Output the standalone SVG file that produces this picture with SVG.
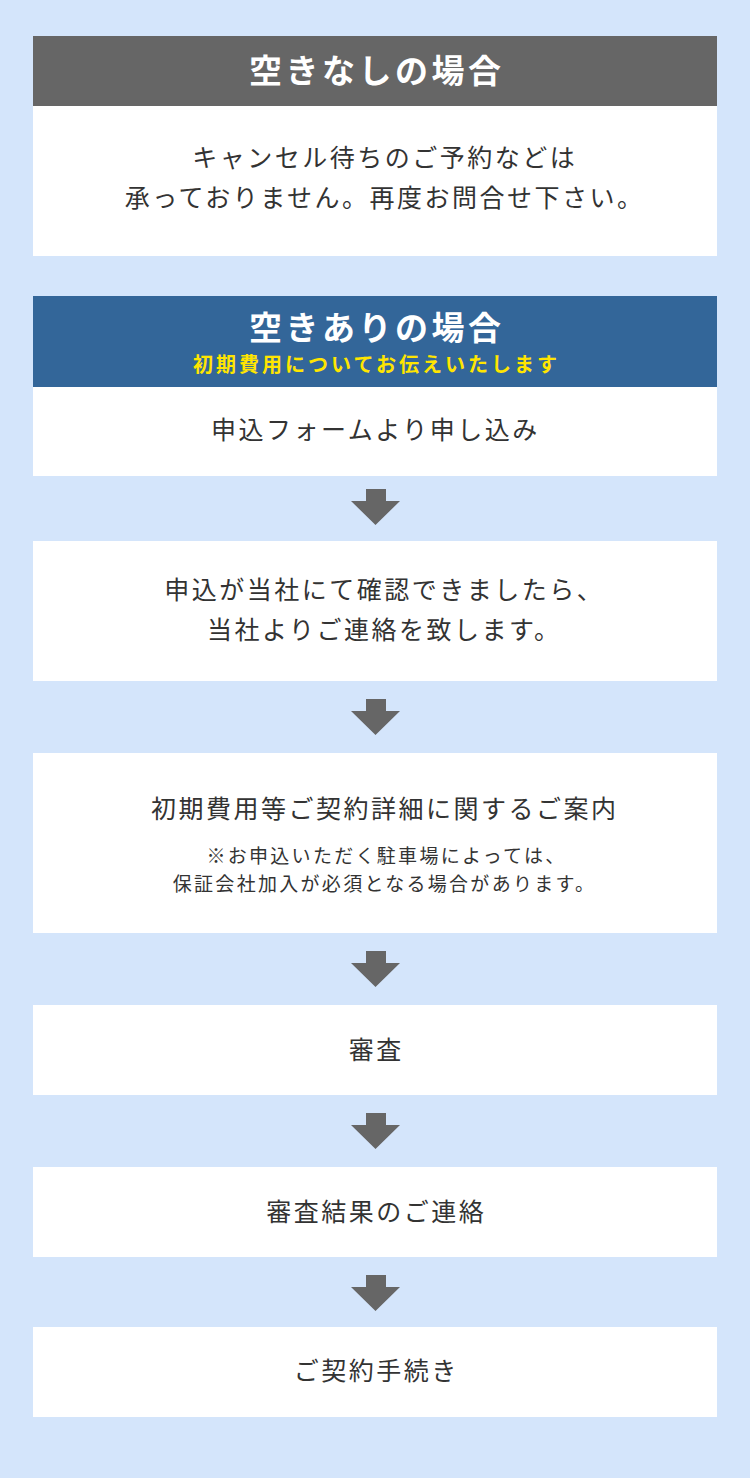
<svg xmlns="http://www.w3.org/2000/svg" width="750" height="1478" viewBox="0 0 750 1478">
<defs>
<style>
text{font-family:"Noto Sans CJK JP","Noto Sans CJK SC",sans-serif;text-anchor:middle;dominant-baseline:central}
.hd{font-size:33px;font-weight:700;fill:#ffffff;letter-spacing:3.5px}
.sub{font-size:20px;font-weight:700;fill:#ffe500;letter-spacing:3px}
.bd{font-size:25px;fill:#333333;letter-spacing:2.5px}
.nt{font-size:19px;fill:#333333;letter-spacing:2.3px}
.box{fill:#ffffff}
.arr{fill:#666666}
</style>
<path id="arrow" d="M366 0H386V12H400L375.5 36L351 12H366Z"/>
</defs>
<rect width="750" height="1478" fill="#d4e5fb"/>
<g id="no-vacancy">
<rect x="33" y="36" width="684" height="70" fill="#666666"/>
<text class="hd" x="376.75" y="69">空きなしの場合</text>
<rect class="box" x="33" y="106" width="684" height="150"/>
<text class="bd" x="384.75" y="156">キャンセル待ちのご予約などは</text>
<text class="bd" x="384.75" y="196">承っておりません。再度お問合せ下さい。</text>
</g>
<g id="vacancy-header">
<rect x="33" y="296" width="684" height="91" fill="#336699"/>
<text class="hd" x="376.75" y="326">空きありの場合</text>
<text class="sub" x="376.5" y="363">初期費用についてお伝えいたします</text>
</g>
<g id="step1">
<rect class="box" x="33" y="387" width="684" height="89"/>
<text class="bd" x="375.5" y="428">申込フォームより申し込み</text>
</g>
<g id="step2">
<rect class="box" x="33" y="541" width="684" height="140"/>
<text class="bd" x="384.25" y="588">申込が当社にて確認できましたら、</text>
<text class="bd" x="384.25" y="628">当社よりご連絡を致します。</text>
</g>
<g id="step3">
<rect class="box" x="33" y="753" width="684" height="180"/>
<text class="bd" x="384.75" y="807">初期費用等ご契約詳細に関するご案内</text>
<text class="nt" x="386.5" y="854.5">※お申込いただく駐車場によっては、</text>
<text class="nt" x="384.5" y="882.5">保証会社加入が必須となる場合があります。</text>
</g>
<g id="step4">
<rect class="box" x="33" y="1005" width="684" height="90"/>
<text class="bd" x="376.25" y="1048">審査</text>
</g>
<g id="step5">
<rect class="box" x="33" y="1167" width="684" height="90"/>
<text class="bd" x="376.25" y="1209.5">審査結果のご連絡</text>
</g>
<g id="step6">
<rect class="box" x="33" y="1327" width="684" height="90"/>
<text class="bd" x="376.25" y="1369">ご契約手続き</text>
</g>
<g id="connectors" class="arr">
<use href="#arrow" y="489"/>
<use href="#arrow" y="699"/>
<use href="#arrow" y="951"/>
<use href="#arrow" y="1113"/>
<use href="#arrow" y="1275"/>
</g>
</svg>
